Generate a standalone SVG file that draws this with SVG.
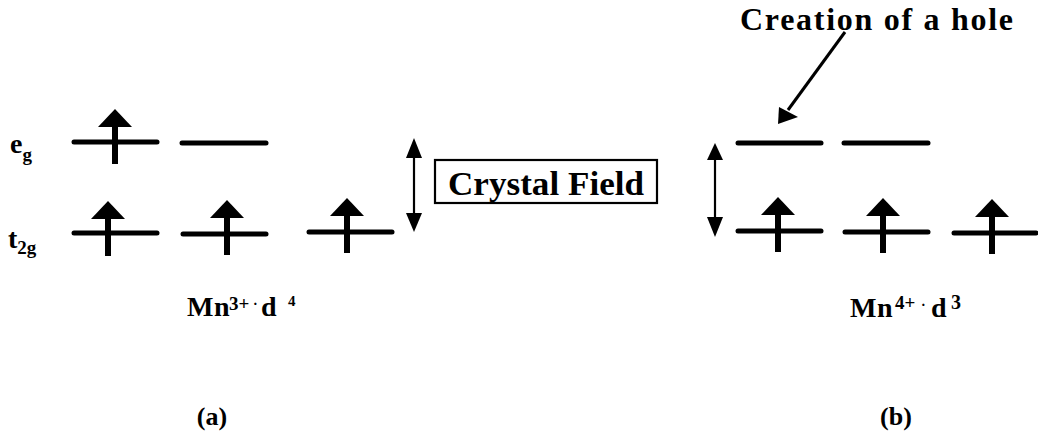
<svg xmlns="http://www.w3.org/2000/svg" width="1038" height="436" viewBox="0 0 1038 436">
<style>
.lvl{stroke:#000;stroke-width:5;stroke-linecap:round;fill:none}
.t{font-family:"Liberation Serif","Times New Roman",serif;font-weight:bold;fill:#000}
.cn{stroke:#000;stroke-width:2.2;fill:none}
.hd{fill:#000;stroke:none}
</style>
<defs>
<g id="spin">
<polygon points="0,-33 17,-15 -17,-15" fill="#000"/>
<rect x="-3" y="-16" width="6" height="38" fill="#000"/>
</g>
</defs>
<rect width="1038" height="436" fill="#fff"/>

<g id="label-eg"><text class="t" x="10" y="153" font-size="28">e<tspan font-size="19" dy="8">g</tspan></text></g>
<g id="label-t2g"><text class="t" x="8" y="248" font-size="28">t<tspan font-size="19" dy="6">2g</tspan></text></g>

<g id="a-eg1"><line class="lvl" x1="74" y1="142" x2="157" y2="142"/><use href="#spin" x="115" y="142"/></g>
<g id="a-eg2"><line class="lvl" x1="182" y1="143" x2="266" y2="143"/></g>
<g id="a-t2g1"><line class="lvl" x1="74" y1="233" x2="157" y2="233"/><use href="#spin" x="108" y="234"/></g>
<g id="a-t2g2"><line class="lvl" x1="183" y1="234" x2="266" y2="234"/><use href="#spin" x="227" y="233"/></g>
<g id="a-t2g3"><line class="lvl" x1="309" y1="232" x2="392" y2="232"/><use href="#spin" x="347" y="231"/></g>

<g id="crystal-field">
<rect x="435" y="160" width="222" height="43" fill="#fff" stroke="#000" stroke-width="2.2"/>
<text class="t" x="546" y="195" font-size="34" text-anchor="middle" textLength="196" lengthAdjust="spacingAndGlyphs">Crystal Field</text>
</g>

<g id="b-eg1"><line class="lvl" x1="738" y1="143" x2="821" y2="143"/></g>
<g id="b-eg2"><line class="lvl" x1="844" y1="143" x2="928" y2="143"/></g>
<g id="b-t2g1"><line class="lvl" x1="738" y1="231" x2="821" y2="231"/><use href="#spin" x="778" y="230"/></g>
<g id="b-t2g2"><line class="lvl" x1="845" y1="232" x2="928" y2="232"/><use href="#spin" x="883" y="231"/></g>
<g id="b-t2g3"><line class="lvl" x1="954" y1="233" x2="1036" y2="233"/><use href="#spin" x="992" y="232"/></g>

<g id="hole-label"><text class="t" x="740" y="30" font-size="32" textLength="273" lengthAdjust="spacing">Creation of a hole</text></g>

<g id="mn3"><text class="t" y="316" font-size="28"><tspan x="187">M</tspan><tspan x="214">n</tspan><tspan x="229" y="310" font-size="19">3+</tspan><tspan x="253" y="309" font-size="14">·</tspan><tspan x="261" y="316" font-size="28">d</tspan><tspan x="288" y="306" font-size="15">4</tspan></text></g>
<g id="mn4"><text class="t" y="317" font-size="28"><tspan x="850">M</tspan><tspan x="877">n</tspan><tspan x="895" y="309" font-size="19">4+</tspan><tspan x="921" y="310" font-size="14">·</tspan><tspan x="931" y="317" font-size="28">d</tspan><tspan x="951" y="309" font-size="20">3</tspan></text></g>

<g id="label-a"><text class="t" x="212" y="425" font-size="26" text-anchor="middle">(a)</text></g>
<g id="label-b"><text class="t" x="896" y="425" font-size="26" text-anchor="middle">(b)</text></g>

<g id="connectors">
<line class="cn" x1="414" y1="155" x2="414" y2="216"/>
<polygon class="hd" points="414,138 422,158 406,158"/>
<polygon class="hd" points="414,232 422,213 406,213"/>
<line class="cn" x1="715" y1="157" x2="715" y2="220"/>
<polygon class="hd" points="715,143 723,160 707,160"/>
<polygon class="hd" points="715,237 723,217 707,217"/>
<line x1="845" y1="32" x2="788" y2="110" stroke="#000" stroke-width="3"/>
<polygon class="hd" points="778,124 798,117 779,107"/>
</g>
</svg>
